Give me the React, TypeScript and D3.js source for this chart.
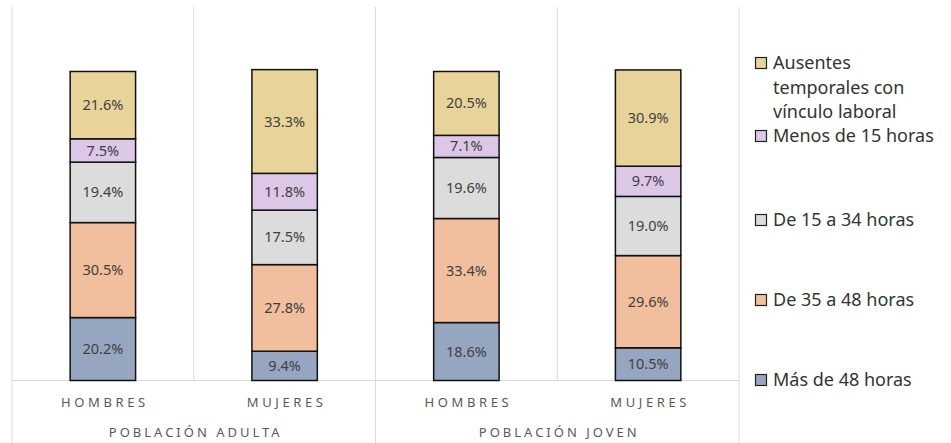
// Stacked 100% columns: población adulta / joven por horas trabajadas
import React from 'react';
import * as d3 from 'd3';

const categories = ['HOMBRES', 'MUJERES', 'HOMBRES', 'MUJERES'];
const groups = ['POBLACIÓN ADULTA', 'POBLACIÓN JOVEN'];

// bottom to top
const seriesNames = [
  'Más de 48 horas',
  'De 35 a 48 horas',
  'De 15 a 34 horas',
  'Menos de 15 horas',
  'Ausentes temporales con vínculo laboral',
];
const mas48 = [20.2, 9.4, 18.6, 10.5];
const de35a48 = [30.5, 27.8, 33.4, 29.6];
const de15a34 = [19.4, 17.5, 19.6, 19.0];
const menos15 = [7.5, 11.8, 7.1, 9.7];
const ausentes = [21.6, 33.3, 20.5, 30.9];

const seriesValues = [mas48, de35a48, de15a34, menos15, ausentes];
const colors = ['#97a6c0', '#f1bf9d', '#dcdcdc', '#dcc7e7', '#e8d49a'];

// legend lines (top to bottom) and their entry index
const legendLines = [
  ['Ausentes', 'temporales con', 'vínculo laboral'],
  ['Menos de 15 horas'],
  ['De 15 a 34 horas'],
  ['De 35 a 48 horas'],
  ['Más de 48 horas'],
];
const legendSeries = [4, 3, 2, 1, 0];

const width = 951;
const height = 443;
const plot = { left: 12, right: 739, top: 7, bottom: 380.5 };

const App: React.FC = () => {
  const idx = categories.map((_, i) => i);
  const x = d3
    .scaleBand<number>()
    .domain(idx)
    .range([plot.left, plot.right])
    .paddingInner(0)
    .paddingOuter(0);
  const y = d3.scaleLinear().domain([0, 100]).range([plot.bottom, 69]);

  const rows = idx.map((i) => {
    const r: Record<string, number> = {};
    seriesValues.forEach((s, k) => (r[`s${k}`] = s[i]));
    return r;
  });
  const stacked = d3.stack<Record<string, number>>().keys(seriesValues.map((_, k) => `s${k}`))(rows);

  const bw = x.bandwidth();
  const barW = bw * 0.36;
  const boundaries = d3.range(categories.length + 1).map((i) => plot.left + i * bw);

  // legend layout (Excel spreads entries unevenly)
  const legendTop = [63, 136, 220, 300, 380];
  const lineGap = 24.5;

  return (
    <svg
      width={width}
      height={height}
      style={{ position: 'absolute', left: 0, top: 0, background: '#fff' }}
      fontFamily="'Noto Sans', sans-serif"
    >
      {/* vertical grid / category separators */}
      {boundaries.map((bx, i) => (
        <line
          key={`g${i}`}
          x1={bx}
          x2={bx}
          y1={plot.top}
          y2={i % 2 === 0 ? height : plot.bottom}
          stroke="#d9d9d9"
          strokeWidth={1}
        />
      ))}
      <line x1={plot.left} x2={plot.right} y1={plot.bottom} y2={plot.bottom} stroke="#d9d9d9" strokeWidth={1} />

      {/* bars */}
      {stacked.map((layer, k) =>
        layer.map((d, i) => {
          const bx = (x(i) as number) + (bw - barW) / 2;
          const y0 = y(d[0]);
          const y1 = y(d[1]);
          return (
            <g key={`b${k}-${i}`}>
              <rect
                x={bx}
                y={y1}
                width={barW}
                height={y0 - y1}
                fill={colors[k]}
                stroke="#111"
                strokeWidth={1.5}
              />
              <text
                x={bx + barW / 2}
                y={(y0 + y1) / 2}
                dy="0.35em"
                textAnchor="middle"
                fontSize={14.5}
                fill="#404040"
              >
                {seriesValues[k][i].toFixed(1)}%
              </text>
            </g>
          );
        })
      )}

      {/* category labels */}
      {categories.map((c, i) => (
        <text
          key={`c${i}`}
          x={(x(i) as number) + bw / 2 + 2}
          y={402}
          dy="0.35em"
          textAnchor="middle"
          fontSize={13}
          letterSpacing={3.6}
          fill="#595959"
        >
          {c}
        </text>
      ))}
      {groups.map((g, j) => (
        <text
          key={`gr${j}`}
          x={plot.left + bw * (2 * j + 1) + 2}
          y={432}
          dy="0.35em"
          textAnchor="middle"
          fontSize={13}
          letterSpacing={3}
          fill="#595959"
        >
          {g}
        </text>
      ))}

      {/* legend */}
      {legendLines.map((lines, n) => (
        <g key={`l${n}`}>
          <rect
            x={755.5}
            y={legendTop[n] - 5.5}
            width={11}
            height={11}
            fill={colors[legendSeries[n]]}
            stroke="#222"
            strokeWidth={1.2}
          />
          {lines.map((t, m) => (
            <text
              key={m}
              x={773}
              y={legendTop[n] + m * lineGap}
              dy="0.35em"
              fontSize={18}
              fill="#333"
            >
              {t}
            </text>
          ))}
        </g>
      ))}
    </svg>
  );
};

export default App;
